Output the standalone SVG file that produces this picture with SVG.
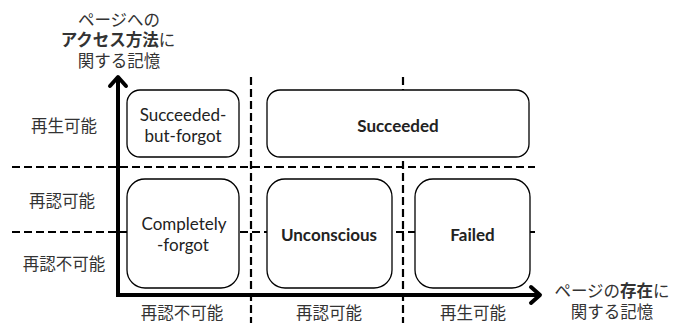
<svg xmlns="http://www.w3.org/2000/svg" width="675" height="323" viewBox="0 0 675 323">
<defs>
<style>
.dash{stroke:#000;stroke-width:2.2;stroke-dasharray:8 4;fill:none}
.axis{stroke:#000;stroke-width:4;fill:none}
.head{stroke:#000;stroke-width:4;fill:none;stroke-linecap:round;stroke-linejoin:round}
.box{fill:#fff;stroke:#000;stroke-width:1.3}
.jp{font-family:"Noto Sans CJK JP","Noto Sans CJK SC",sans-serif;font-size:16.5px;fill:#333}
.en{font-family:Lato,"Open Sans",sans-serif;font-size:17px;fill:#222;text-anchor:middle}
.b{font-weight:bold}
</style>
</defs>
<rect width="675" height="323" fill="#fff"/>
<g id="connectors">
<line class="dash" x1="12" y1="167" x2="535" y2="167"/>
<line class="dash" x1="12" y1="232" x2="535" y2="232"/>
<line class="dash" x1="251" y1="77" x2="251" y2="323"/>
<line class="dash" x1="403" y1="77" x2="403" y2="323"/>
<polyline class="axis" points="118,80 118,295 538,295"/>
<polyline class="head" points="110,86 118,77 126,86"/>
<polyline class="head" points="531,287 540,295 531,303"/>
</g>
<g id="succeeded-but-forgot">
<rect class="box" x="127" y="90" width="112" height="67" rx="13"/>
<text class="en" x="183" y="121">Succeeded-</text>
<text class="en" x="183" y="142">but-forgot</text>
</g>
<g id="succeeded">
<rect class="box" x="267" y="90" width="262" height="67" rx="13"/>
<text class="en b" x="398" y="132">Succeeded</text>
</g>
<g id="completely-forgot">
<rect class="box" x="127" y="179" width="112" height="109" rx="18"/>
<text class="en" x="184" y="230">Completely</text>
<text class="en" x="183" y="251">-forgot</text>
</g>
<g id="unconscious">
<rect class="box" x="267" y="179" width="125" height="109" rx="18"/>
<text class="en b" x="329" y="241">Unconscious</text>
</g>
<g id="failed">
<rect class="box" x="415" y="179" width="115" height="109" rx="18"/>
<text class="en b" x="472.5" y="241">Failed</text>
</g>
<g id="labels" class="jp">
<text x="119" y="26" text-anchor="middle">ページへの</text>
<text x="118" y="46" text-anchor="middle"><tspan class="b">アクセス方法</tspan>に</text>
<text x="119" y="67" text-anchor="middle">関する記憶</text>
<text x="64" y="132" text-anchor="middle">再生可能</text>
<text x="62" y="207" text-anchor="middle">再認可能</text>
<text x="64" y="270" text-anchor="middle">再認不可能</text>
<text x="182" y="319" text-anchor="middle">再認不可能</text>
<text x="329" y="319" text-anchor="middle">再認可能</text>
<text x="473" y="319" text-anchor="middle">再生可能</text>
<text x="612" y="297" text-anchor="middle">ページの<tspan class="b">存在</tspan>に</text>
<text x="612" y="318" text-anchor="middle">関する記憶</text>
</g>
</svg>
